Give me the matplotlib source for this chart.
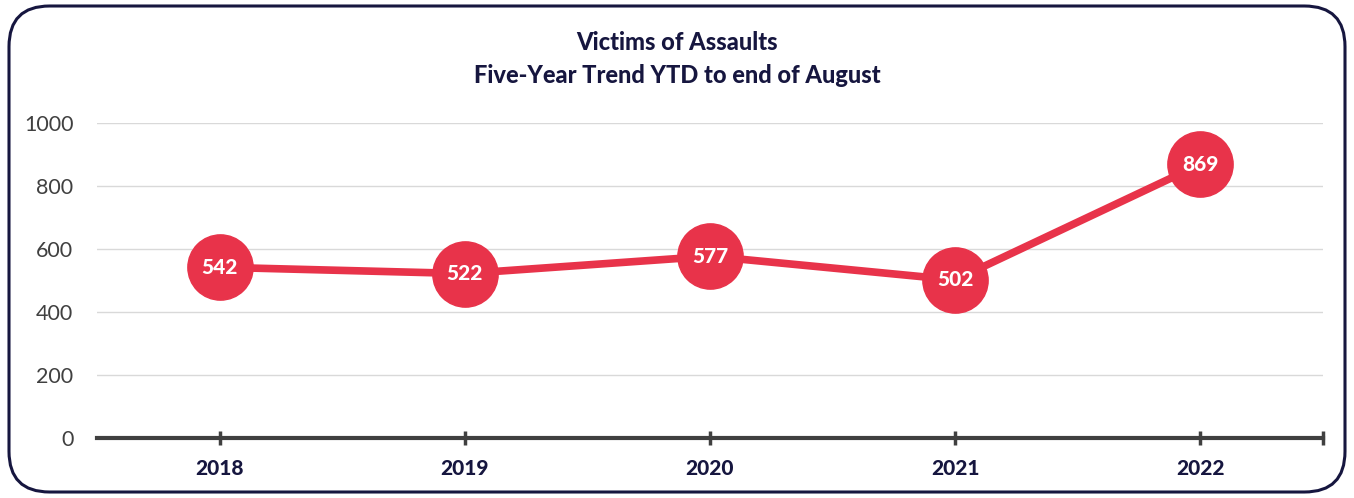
import matplotlib
matplotlib.use("Agg")
import matplotlib.pyplot as plt
from matplotlib.patches import FancyBboxPatch

years = ["2018", "2019", "2020", "2021", "2022"]
victims = [542, 522, 577, 502, 869]
yticks = [0, 200, 400, 600, 800, 1000]
title = "Victims of Assaults\nFive-Year Trend YTD to end of August"

RED = "#E8334A"
NAVY = "#16163F"
GREY = "#404040"

plt.rcParams['font.family'] = ['Lato', 'DejaVu Sans']

W, H = 1354, 498
fig = plt.figure(figsize=(W / 100, H / 100), dpi=100)

border = FancyBboxPatch((9 / W, 6 / H), (W - 18) / W, (H - 12) / H,
                        boxstyle="round,pad=0,rounding_size=0.03",
                        transform=fig.transFigure, facecolor="none",
                        edgecolor=NAVY, linewidth=2.2, mutation_aspect=W / H,
                        zorder=-1)
fig.patches.append(border)

ax = fig.add_axes([97 / W, 1 - 438 / H, (1323 - 97) / W, (438 - 123) / H])
ax.set_facecolor("none")
x = list(range(len(years)))
ax.plot(x, victims, color=RED, linewidth=5.5, marker="o", markersize=47,
        markerfacecolor=RED, markeredgecolor=RED, zorder=3, clip_on=False,
        solid_capstyle="round")
for xi, v in zip(x, victims):
    ax.text(xi, v, str(v), ha="center", va="center", color="white",
            fontsize=15, fontweight=900, zorder=4)

ax.set_xlim(-0.5, len(years) - 0.5)
ax.set_ylim(0, 1000)
ax.set_yticks(yticks)
ax.set_yticklabels([str(t) for t in yticks], fontsize=15.5, color=GREY)
ax.set_xticks(x)
ax.set_xticklabels(years, fontsize=15, fontweight=900, color=NAVY)
ax.set_xticks([len(years) - 0.5], minor=True)
ax.tick_params(axis="x", which="both", direction="inout", length=10, width=2.5,
               color=GREY, pad=10)
ax.tick_params(axis="y", length=0, pad=17)
ax.grid(axis="y", color="#D9D9D9", linewidth=1)
ax.set_axisbelow(True)
for s in ["top", "right", "left"]:
    ax.spines[s].set_visible(False)
ax.spines["bottom"].set_color(GREY)
ax.spines["bottom"].set_linewidth(3)
ax.spines["bottom"].set_zorder(2)

fig.text(0.5, 1 - 59 / H, title, ha="center", va="center", fontsize=17,
         fontweight=900, color=NAVY, linespacing=1.5)

fig.savefig("out.png", dpi=100)
